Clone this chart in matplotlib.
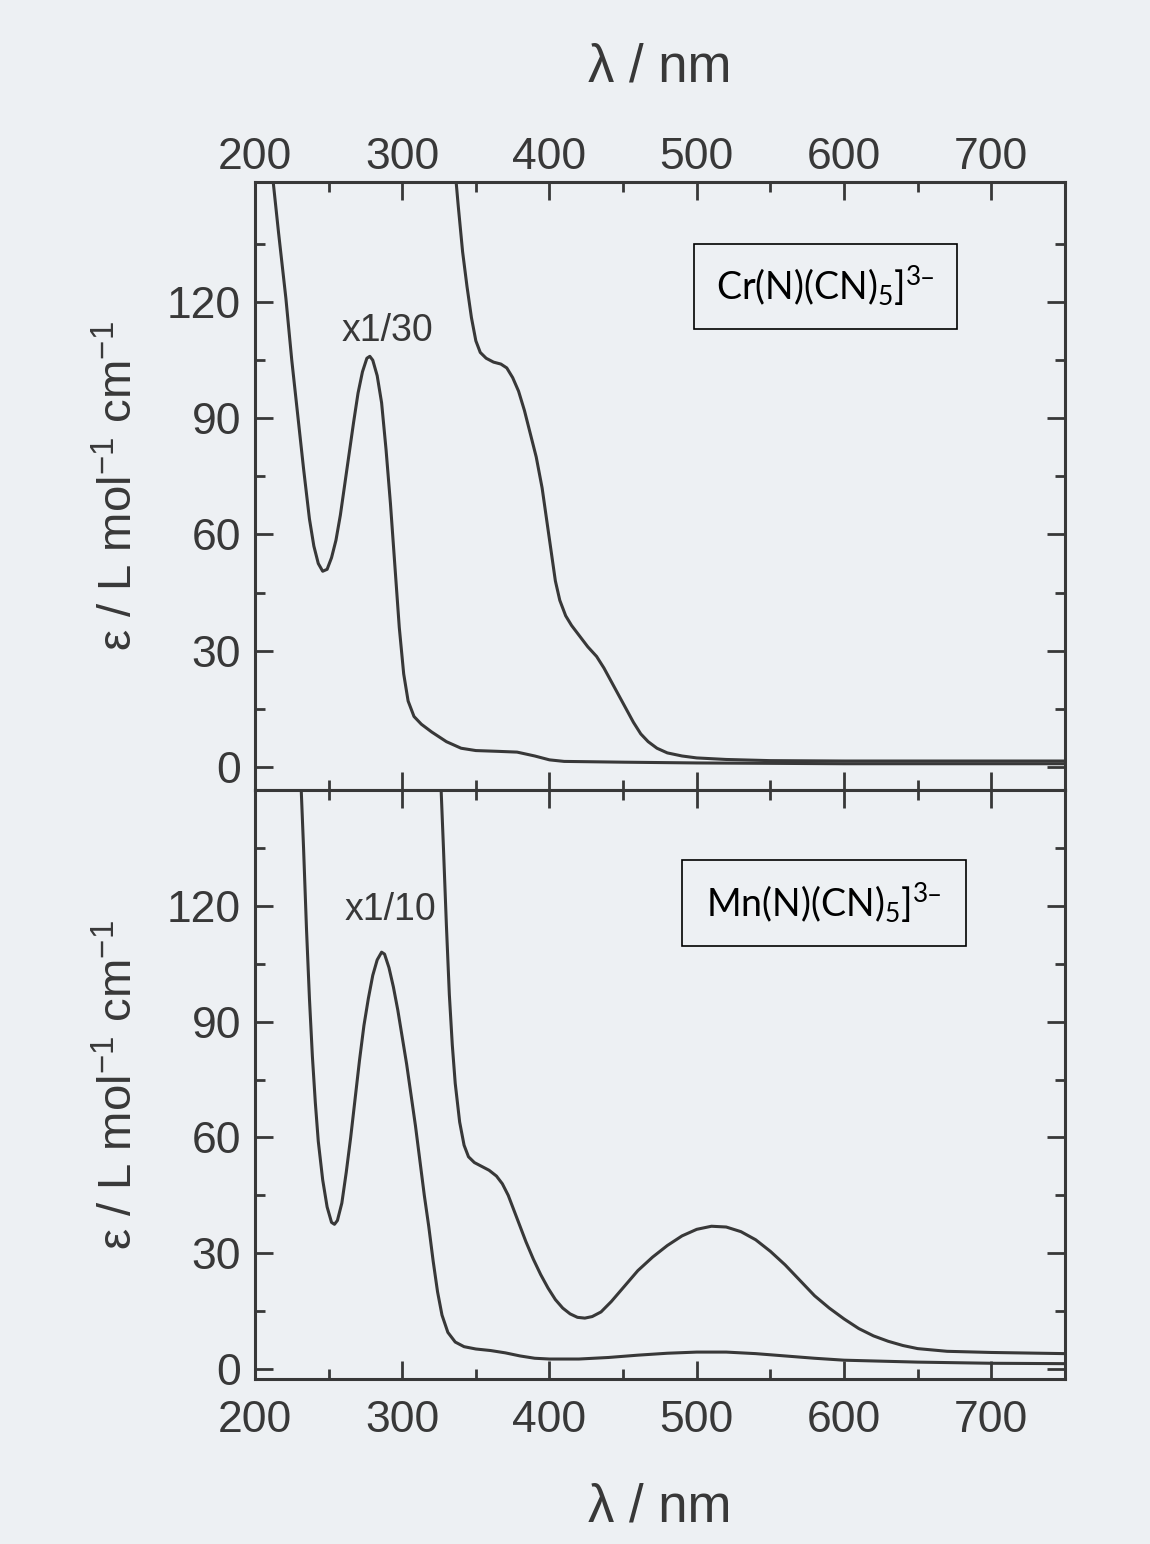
import numpy as np
import matplotlib
matplotlib.use("Agg")
import matplotlib.pyplot as plt
from matplotlib.patches import Rectangle
from matplotlib.ticker import MultipleLocator

plt.rcParams['font.family'] = ['Liberation Sans', 'DejaVu Sans']
plt.rcParams['mathtext.default'] = 'regular'

# Cr(N)(CN)5 3-  -- UV band shown x1/30
cr_uv_wl = [211, 216, 221, 225, 229, 233, 237, 240, 243, 246, 249, 252, 255, 258, 261, 264, 267,
            270, 273, 276, 278, 280, 283, 286, 289, 292, 295, 298, 301, 304, 308, 313, 320, 330,
            340, 350, 365, 378, 390, 400, 410, 450, 500, 600, 750]
cr_uv_eps = [156, 138, 121, 105, 91, 77, 64, 57, 52.5, 50.5, 51, 54, 58.5, 65, 73, 81, 89,
             96.5, 102, 105.5, 106, 105, 101, 94, 82, 68, 52, 36, 24, 17, 13, 11, 9, 6.5,
             4.8, 4.2, 4.0, 3.8, 2.8, 1.8, 1.4, 1.2, 1.0, 0.8, 0.8]

# Cr visible region, full scale
cr_vis_wl = [335, 338, 341, 344, 347, 350, 353, 357, 362, 367, 371, 375, 379, 383, 387, 391, 395,
             398, 401, 404, 407, 411, 415, 420, 426, 432, 437, 442, 447, 452, 457, 462, 467, 473,
             480, 490, 500, 520, 550, 600, 650, 700, 750]
cr_vis_eps = [158, 145, 133, 124, 116, 110, 107, 105.5, 104.5, 104, 103, 100.5, 97, 92, 86, 80, 72,
              64, 56, 48, 43, 39, 36.5, 34, 31, 28.5, 25.5, 22, 18.5, 15, 11.5, 8.5, 6.5, 4.8,
              3.6, 2.8, 2.3, 1.9, 1.6, 1.5, 1.5, 1.5, 1.5]

# Mn(N)(CN)5 3-  -- UV band shown x1/10
mn_uv_wl = [231, 233, 235, 237, 239, 241, 243, 246, 249, 252, 254, 256, 259, 262, 265, 268, 271,
            274, 277, 280, 283, 286, 288, 291, 294, 297, 300, 303, 306, 309, 312, 315, 318, 321,
            324, 327, 331, 336, 342, 350, 360, 370, 380, 390, 400, 420, 440, 460, 480, 500, 520,
            540, 560, 580, 600, 650, 700, 750]
mn_uv_eps = [154, 135, 114, 96, 81, 69, 59, 49, 42, 38, 37.5, 38.5, 43, 51, 60, 70, 80,
             89, 96, 102, 106, 108, 107.5, 104, 99, 93, 86, 79, 71, 63, 54, 45, 37, 28,
             20, 14, 9.5, 7, 5.8, 5.2, 4.8, 4.2, 3.4, 2.8, 2.6, 2.6, 3.0, 3.6, 4.1, 4.4, 4.4,
             4.0, 3.4, 2.8, 2.3, 1.8, 1.5, 1.4]

# Mn visible region, full scale
mn_vis_wl = [326, 328, 330, 332, 334, 336, 339, 342, 345, 349, 354, 359, 364, 368, 372, 376, 380,
             384, 389, 394, 399, 404, 409, 414, 419, 424, 429, 435, 442, 451, 460, 470, 480, 490,
             500, 510, 520, 530, 540, 550, 560, 570, 580, 590, 600, 610, 620, 630, 640, 650, 670,
             700, 750]
mn_vis_eps = [154, 135, 115, 97, 84, 74, 64, 58, 55, 53.5, 52.5, 51.5, 50, 48, 45, 41, 37,
              33, 28.5, 24.5, 21, 18, 15.8, 14.3, 13.4, 13.2, 13.6, 14.8, 17.5, 21.5, 25.5, 29, 32, 34.5,
              36.2, 37, 36.8, 35.6, 33.5, 30.5, 27, 23, 19, 15.8, 13, 10.5, 8.6, 7.2, 6.1, 5.3, 4.6,
              4.3, 4.0]

paper = '#edf0f3'
ink = '#383838'

fig = plt.figure(figsize=(11.5, 15.44), dpi=100, facecolor=paper)
ax1 = fig.add_axes([0.2217, 0.4883, 0.7043, 0.3938])
ax2 = fig.add_axes([0.2217, 0.1068, 0.7043, 0.3815])

ax1.plot(cr_uv_wl, cr_uv_eps, color=ink, lw=2.2)
ax1.plot(cr_vis_wl, cr_vis_eps, color=ink, lw=2.2)
ax2.plot(mn_uv_wl, mn_uv_eps, color=ink, lw=2.2)
ax2.plot(mn_vis_wl, mn_vis_eps, color=ink, lw=2.2)

ax1.set_ylim(-6, 151)
ax2.set_ylim(-2.6, 150)

for ax in (ax1, ax2):
    ax.set_facecolor(paper)
    ax.set_xlim(200, 750)
    ax.xaxis.set_major_locator(MultipleLocator(100))
    ax.xaxis.set_minor_locator(MultipleLocator(50))
    ax.set_yticks([0, 30, 60, 90, 120])
    ax.set_yticks([15, 45, 75, 105, 135], minor=True)
    for s in ax.spines.values():
        s.set_linewidth(2.2)
        s.set_color(ink)
    ax.tick_params(which='both', direction='in', top=True, bottom=True, left=True, right=True,
                   width=2.0, color=ink, labelcolor=ink, labelsize=32)
    ax.tick_params(which='major', length=13)
    ax.tick_params(axis='y', which='major', pad=10)
    ax.tick_params(which='minor', length=7)
    ax.set_ylabel('ε / L mol$^{-1}$ cm$^{-1}$', fontsize=34, color=ink, labelpad=18)

# top panel carries its wavelength labels on top, closer to the frame
ax1.tick_params(axis='x', which='major', pad=3, labeltop=True, labelbottom=False)
ax1.xaxis.set_label_position('top')
ax1.set_xlabel('λ / nm', fontsize=38, color=ink, labelpad=40)
ax2.tick_params(axis='x', which='major', pad=15)
ax2.set_xlabel('λ / nm', fontsize=38, color=ink, labelpad=30)

ax1.text(290, 112.5, 'x1/30', fontsize=27, color=ink, ha='center', va='center')
ax2.text(292, 119, 'x1/10', fontsize=27, color=ink, ha='center', va='center')

# boxed complex labels
ax1.add_patch(Rectangle((0.542, 0.759), 0.325, 0.139, transform=ax1.transAxes,
                        fill=False, ec='black', lw=1.2))
ax1.text(0.704, 0.829, 'Cr(N)(CN)$_5$]$^{3\u2013}$', transform=ax1.transAxes,
         fontsize=27, family=['Lato', 'DejaVu Sans'], color='black', ha='center', va='center')
ax2.add_patch(Rectangle((0.527, 0.735), 0.351, 0.146, transform=ax2.transAxes,
                        fill=False, ec='black', lw=1.2))
ax2.text(0.702, 0.808, 'Mn(N)(CN)$_5$]$^{3\u2013}$', transform=ax2.transAxes,
         fontsize=27, family=['Lato', 'DejaVu Sans'], color='black', ha='center', va='center')

fig.savefig('out.png', dpi=100, facecolor=paper)
